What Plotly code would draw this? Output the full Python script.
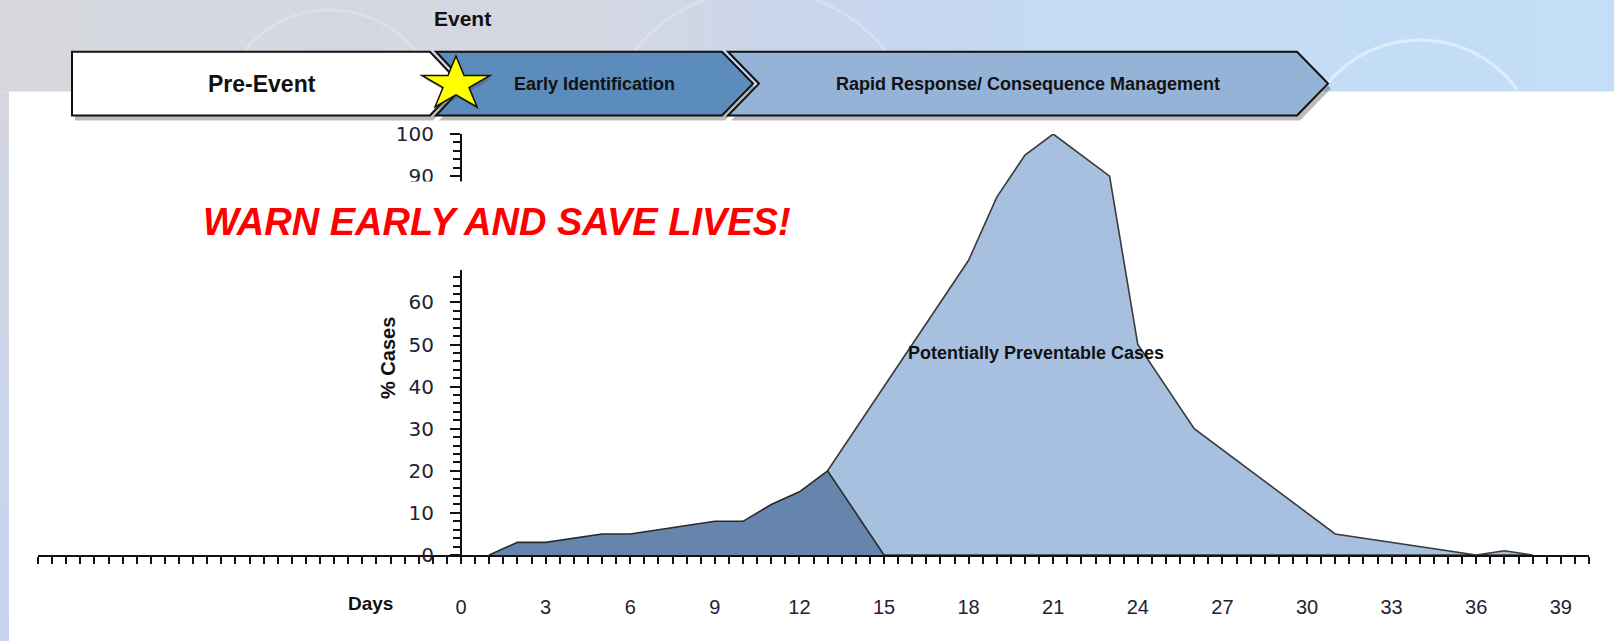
import math
import plotly.graph_objects as go

# ---------------- data ----------------
early_days = [1, 2, 3, 5, 6, 9, 10, 11, 12, 13, 15]
early_pct = [0, 3, 3, 5, 5, 8, 8, 12, 15, 20, 0]
late_days = [13, 18, 19, 20, 21, 23, 24, 26, 31, 36, 37, 38]
late_pct = [20, 70, 85, 95, 100, 90, 50, 30, 5, 0, 1, 0]
x_tick_days = list(range(0, 40, 3))
x_tick_labels = [str(d) for d in x_tick_days]
y_tick_vals = [0, 10, 20, 30, 40, 50, 60, 90, 100]   # 70 and 80 sit behind the slogan box
phase_labels = ["Pre-Event", "Early Identification", "Rapid Response/ Consequence Management"]

# ---------------- geometry helpers (layout only) ----------------
W, H = 1614, 641
L, R, T, B = 38, 1589, 134, 555     # plot area in pixels
PW, PH = R - L, B - T


def fx(px):
    return (px - L) / PW


def fy(py):
    return (B - py) / PH


def path(points):
    return "M " + " L ".join(f"{fx(x):.5f},{fy(y):.5f}" for x, y in points) + " Z"


def lerp_color(c1, c2, t):
    return "rgb(%d,%d,%d)" % tuple(round(a + (b - a) * t) for a, b in zip(c1, c2))


shapes = []
# background band at top (gradient strips)
stops = [(0, (214, 216, 222)), (600, (212, 215, 226)), (850, (200, 214, 238)), (1100, (196, 219, 244)), (1614, (196, 222, 247))]
nstrip = 80
for i in range(nstrip):
    x0 = W * i / nstrip
    x1 = W * (i + 1) / nstrip + 0.5
    xm = (x0 + x1) / 2
    col = lerp_color(stops[-1][1], stops[-1][1], 0)
    for (a, ca), (b, cb) in zip(stops[:-1], stops[1:]):
        if a <= xm <= b:
            col = lerp_color(ca, cb, (xm - a) / (b - a))
            break
    shapes.append(dict(type="rect", xref="paper", yref="paper", x0=fx(x0), x1=fx(x1), y0=fy(91.5), y1=fy(0),
                       fillcolor=col, line=dict(width=0), layer="below"))
# left strip
nls = 20
for i in range(nls):
    y0 = 91.5 + (H - 91.5) * i / nls
    y1 = 91.5 + (H - 91.5) * (i + 1) / nls + 0.5
    col = lerp_color((212, 214, 224), (196, 212, 240), i / (nls - 1))
    shapes.append(dict(type="rect", xref="paper", yref="paper", x0=fx(0), x1=fx(9), y0=fy(y1), y1=fy(y0),
                       fillcolor=col, line=dict(width=0), layer="below"))
# faint decorative arcs in the background
for cx, cy, r, colr in [(1420, 160, 120, "rgba(255,255,255,0.45)"), (330, 120, 110, "rgba(255,255,255,0.22)"),
                        (760, 150, 160, "rgba(255,255,255,0.22)")]:
    pts = []
    for k in range(0, 181):
        a = math.pi + math.pi * k / 180
        yy = cy + r * math.sin(a)
        if yy <= 90:
            pts.append((cx + r * math.cos(a), yy))
    if len(pts) > 2:
        shapes.append(dict(type="path", xref="paper", yref="paper",
                           path="M " + " L ".join(f"{fx(x):.5f},{fy(y):.5f}" for x, y in pts),
                           line=dict(color=colr, width=3), layer="below"))

# white box hiding part of the y axis behind the slogan
shapes.append(dict(type="rect", xref="paper", yref="paper", x0=fx(120), x1=fx(860), y0=fy(270), y1=fy(181.5),
                   fillcolor="white", line=dict(width=0), layer="above"))

# banner chevrons
top, bot, mid = 51.7, 115.5, 83.6
chev = [
    ([(72, top), (430, top), (460, mid), (430, bot), (72, bot)], "white"),
    ([(436, top), (722, top), (753, mid), (722, bot), (436, bot), (466, mid)], "#5b8cbb"),
    ([(728, top), (1297, top), (1328, mid), (1297, bot), (728, bot), (759, mid)], "#95b3d7"),
]
for pts, col in chev:
    sh = [(x + 3, y + 5) for x, y in pts]
    shapes.append(dict(type="path", xref="paper", yref="paper", path=path(sh),
                       fillcolor="rgba(60,60,60,0.35)", line=dict(width=0), layer="above"))
for pts, col in chev:
    shapes.append(dict(type="path", xref="paper", yref="paper", path=path(pts),
                       fillcolor=col, line=dict(color="#111111", width=2), layer="above"))

# star marking the event
scx, scy, srx, sry = 456, 84.2, 35.8, 28.2
star = []
for k in range(10):
    ang = -math.pi / 2 + k * math.pi / 5
    rr = 1.0 if k % 2 == 0 else 0.382
    star.append((scx + srx * rr * math.cos(ang), scy + sry * rr * math.sin(ang)))
shapes.append(dict(type="path", xref="paper", yref="paper", path=path([(x + 2, y + 3) for x, y in star]),
                   fillcolor="rgba(60,60,60,0.3)", line=dict(width=0), layer="above"))
shapes.append(dict(type="path", xref="paper", yref="paper", path=path(star),
                   fillcolor="#ffff00", line=dict(color="#111111", width=1.5), layer="above"))

# ---------------- traces ----------------
fig = go.Figure()
fig.add_trace(go.Scatter(
    x=late_days + [early_days[-1]], y=late_pct + [0], mode="lines", fill="toself",
    fillcolor="#a7c0df", line=dict(color="#3a3a3a", width=1.6), hoverinfo="skip", showlegend=False))
fig.add_trace(go.Scatter(
    x=early_days, y=early_pct, mode="lines", fill="tozeroy",
    fillcolor="#6585ad", line=dict(color="#2a2a2a", width=1.6), hoverinfo="skip", showlegend=False))

bold = "Liberation Sans, Arial, sans-serif"
annotations = [
    dict(text="<b>Event</b>", x=fx(462.5), y=fy(18.5), font=dict(family=bold, size=21, color="#111")),
    dict(text="<b>" + phase_labels[0] + "</b>", x=fx(262), y=fy(84), font=dict(family=bold, size=23, color="#111")),
    dict(text="<b>" + phase_labels[1] + "</b>", x=fx(594), y=fy(84), font=dict(family=bold, size=18, color="#111")),
    dict(text="<b>" + phase_labels[2] + "</b>", x=fx(1028), y=fy(84), font=dict(family=bold, size=18, color="#111")),
    dict(text="<b><i>WARN EARLY AND SAVE LIVES!</i></b>", x=fx(497), y=fy(222),
         font=dict(family=bold, size=38, color="#ff0000")),
    dict(text="<b>Potentially Preventable Cases</b>", x=fx(1036), y=fy(353),
         font=dict(family=bold, size=18, color="#111")),
    dict(text="<b>% Cases</b>", x=fx(387.5), y=fy(358.5), textangle=-90,
         font=dict(family=bold, size=20, color="#111")),
    dict(text="<b>Days</b>", x=fx(370.5), y=fy(603), font=dict(family=bold, size=19, color="#111")),
]
for a in annotations:
    a.update(xref="paper", yref="paper", showarrow=False, xanchor="center", yanchor="middle")

fig.update_layout(
    width=W, height=H,
    margin=dict(l=L, r=W - R, t=T, b=H - B, pad=0),
    paper_bgcolor="white", plot_bgcolor="white",
    shapes=shapes, annotations=annotations,
    xaxis=dict(range=[-15, 40], showgrid=False, zeroline=False, showline=True, linecolor="#111", linewidth=2,
               ticks="outside", ticklen=7, tickwidth=1.5, tickcolor="#111",
               tickvals=x_tick_days, ticktext=x_tick_labels,
               tickfont=dict(family=bold, size=20, color="#222233"), ticklabelstandoff=26,
               minor=dict(dtick=0.5, tick0=0, ticks="outside", ticklen=7, tickwidth=1.5, tickcolor="#111",
                          showgrid=False)),
    yaxis=dict(range=[0, 100], anchor="free", position=fx(461), showgrid=False, zeroline=False,
               showline=True, linecolor="#111", linewidth=2,
               ticks="outside", ticklen=10, tickwidth=1.5, tickcolor="#111", tickvals=y_tick_vals,
               tickfont=dict(family="DejaVu Sans, sans-serif", size=20, color="#222233"), ticklabelstandoff=12,
               minor=dict(dtick=2, tick0=0, ticks="outside", ticklen=7, tickwidth=1.5, tickcolor="#111",
                          showgrid=False)),
)

fig.write_html("out.html", config={"displayModeBar": False},
               post_script="document.body.style.margin='0';document.body.style.overflow='hidden';")
